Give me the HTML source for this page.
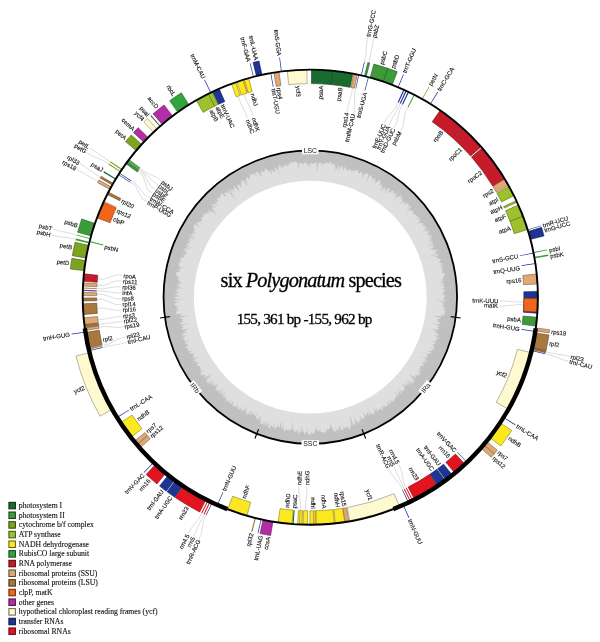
<!DOCTYPE html>
<html lang="en"><head><meta charset="utf-8"><title>six Polygonatum species chloroplast genome map</title>
<style>html,body{margin:0;padding:0;background:#fff}svg{display:block}</style></head>
<body>
<svg width="600" height="642" viewBox="0 0 600 642" font-family="'Liberation Sans', Arial, sans-serif">
<rect width="600" height="642" fill="#fff"/>
<circle cx="310.3" cy="297.2" r="146.75" fill="#dfdfdf"/>
<path d="M310.3 297.2m-146.75 0a146.75 146.75 0 1 0 293.5 0a146.75 146.75 0 1 0 -293.5 0Z M444.41 297.2 444.53 296.7 444.23 296.21 444.25 295.71 444.16 295.22 445.54 294.7 442.02 294.28 443.4 293.76 442.58 293.29 444.52 292.73 442.64 292.31 445.2 291.71 442.95 291.31 445.42 290.7 443.9 290.28 445.29 289.71 444.69 289.24 440.76 288.99 442.18 288.41 444.74 287.74 443.71 287.32 444.23 286.78 444.11 286.3 443.81 285.82 438.85 285.77 444.15 284.8 443.76 284.34 444.08 283.81 441.04 283.62 442.65 282.96 442.52 282.48 439.42 282.34 443.77 281.34 443.69 280.85 439.81 280.84 442.9 279.95 442.1 279.56 443.25 278.91 443.91 278.31 441.52 278.15 443.03 277.43 442.54 277.01 444.54 276.19 444.23 275.73 444.43 275.19 444.72 274.63 444.8 274.11 444.47 273.66 443.83 273.26 443.48 272.81 441.79 272.62 440.65 272.33 443.36 271.31 442.92 270.88 442.4 270.48 442.75 269.9 442.76 269.39 440.61 269.33 442.66 268.38 442.36 267.94 442.62 267.37 442.58 266.86 439.82 266.99 440.21 266.39 442.68 265.29 443.55 264.56 438.82 265.21 442.24 263.84 441.68 263.47 441.83 262.91 439.85 262.92 438.24 262.83 440.77 261.64 439.02 261.6 441.48 260.4 440.37 260.19 440.43 259.65 439.89 259.29 439.67 258.84 435.71 259.51 438.97 258.01 437.17 258.04 437.53 257.41 438.04 256.74 434.84 257.24 435.84 256.41 438.97 254.87 437.75 254.74 438.26 254.05 426.47 257.55 434.55 254.27 437 252.9 435.15 253.03 437.35 251.73 433.56 252.57 437.11 250.75 437.7 250 437.52 249.53 429.99 251.85 436.26 248.94 433.72 249.39 433.28 249.03 429.28 250.09 430.7 249.01 434.77 246.85 434.26 246.52 432.96 246.53 432.45 246.21 432.66 245.59 433.24 244.81 433.11 244.32 425.66 247.02 432.92 243.33 433.34 242.6 431.92 242.69 429.15 243.4 432.73 241.24 432.18 240.95 430.85 241.02 430.03 240.86 432.57 239.11 426.55 241.44 431.32 238.6 432.45 237.5 432.52 236.9 427.15 239.02 432.41 235.83 431.79 235.58 430.83 235.5 429.26 235.75 429.94 234.84 429.54 234.49 427.46 235.03 426.36 235.06 429.24 232.95 427.33 233.42 429.43 231.71 428.63 231.58 429.54 230.49 426.78 231.47 425.71 231.51 425.94 230.81 428.01 229.05 421.93 232.01 428.08 227.84 423.26 230.11 427.75 226.86 423.89 228.6 427.42 225.87 422.32 228.41 425.38 225.95 425.07 225.55 425.03 224.99 422.49 226 421.96 225.76 423.88 223.94 422.55 224.2 423.32 223.11 423.14 222.63 421.3 223.25 420.53 223.18 421.12 222.19 418.61 223.3 417.68 223.35 420.92 220.52 418.98 221.27 419.38 220.39 420.91 218.7 418.55 219.77 419.62 218.39 419.57 217.81 413.62 221.55 419.07 216.94 418.03 217.09 417.89 216.57 418.01 215.86 415.21 217.37 416.27 215.94 416.76 214.94 416.07 214.84 415.24 214.86 415.75 213.83 413 215.39 413.73 214.18 414.23 213.15 412.82 213.66 413.1 212.79 413.97 211.44 413.76 210.97 411.79 211.97 411.33 211.71 412.74 209.87 411.03 210.68 411.31 209.79 408.98 211.17 410.96 208.79 406.01 212.51 408.02 210.08 411.71 206.12 411.24 205.86 409.69 206.59 407.08 208.32 409.96 204.99 408.82 205.36 408.49 204.99 408.59 204.21 408.69 203.42 408.32 203.08 408.16 202.54 404.17 205.73 405.89 203.36 404.05 204.48 406.05 201.8 405.35 201.79 403.51 202.96 404.41 201.33 401.92 203.17 403.03 201.34 397.26 206.63 403.02 199.92 403.26 198.94 401.54 200.04 401.48 199.39 402.05 198.04 402.48 196.83 399.58 199.27 400.61 197.4 401.2 195.99 401.57 194.82 399.84 196.02 398.2 197.12 396.65 198.16 398.72 195.02 393.59 200.22 397.91 194.43 396.13 195.76 393.94 197.6 396.85 193.36 395.03 194.77 395.5 193.43 395.92 192.13 394.28 193.37 393.57 193.46 392.82 193.61 393.93 191.41 393.46 191.21 393 190.99 392.82 190.41 392.37 190.17 390.44 191.89 388.49 193.66 390.7 189.91 387.21 193.77 389.53 189.83 390.05 188.28 389.57 188.09 388.91 188.16 384.39 193.62 388.21 187.43 386.48 189.02 384.2 191.43 386.33 187.52 384.53 189.27 384.25 188.82 385.17 186.59 382.4 189.83 380.11 192.4 382.98 187.23 382.71 186.74 380.43 189.35 382 186.05 382.02 185.1 381.55 184.93 380.73 185.3 381.72 182.79 379.48 185.47 379.2 185 380.67 181.65 379.9 181.95 379.99 180.83 379.72 180.32 379.56 179.6 377.67 181.83 376.79 182.36 376.64 181.64 374.96 183.6 376.18 180.45 374.77 181.96 375.02 180.49 375.52 178.56 375.2 178.11 374.37 178.6 371.96 182.03 373.71 177.71 373.43 177.17 371.47 179.85 371.99 177.77 371.51 177.62 371.95 175.65 371.78 174.86 370.67 175.96 370.53 175.12 369.44 176.19 365.98 182.21 367.65 177.62 368.2 175.33 368.12 174.32 367.91 173.59 367.33 173.64 367.01 173.14 366.25 173.58 365.31 174.46 365.46 172.9 363.74 175.56 361.35 179.83 363.68 173.22 361.55 176.95 362.49 173.47 362.12 173.06 361.58 173.07 361.45 172.07 360.79 172.39 360.76 171.13 358.91 174.42 359.12 172.55 358.22 173.51 358.06 172.55 358.24 170.69 357.79 170.47 357.23 170.53 357 169.7 356.37 169.97 355.79 170.1 354.86 171.24 354.21 171.62 353.97 170.8 353.43 170.84 353.08 170.35 352.3 171.11 352.27 169.65 350.91 172.22 351.06 170.15 350.8 169.34 350.47 168.75 349.72 169.5 348.54 171.68 348.4 170.45 347.72 171.03 347.64 169.55 347.59 167.95 346.31 170.66 346.06 169.73 346 168.12 345.78 167.03 344.84 168.61 345 166.09 343.07 171.49 343.15 169.27 342.73 168.93 342.73 166.91 342.57 165.45 342 165.68 341.2 166.92 340.72 166.77 340.21 166.77 338.46 172.33 338.77 168.7 338.91 165.79 338.53 165.19 336.99 170.11 337.4 165.71 335.85 170.91 335.85 168.43 336.32 163.49 333.95 173.21 334.96 165.27 334.79 163.44 333.91 165.52 333.85 163 333.19 163.88 332.71 163.71 331.89 165.6 331.58 164.45 331.6 161.06 330.46 165.21 330.54 161.32 329.88 162.32 329.34 162.51 328.55 164.57 328.23 163.23 327.83 162.48 327.31 162.54 326.56 164.53 326.37 161.93 325.76 162.84 325.31 162.36 324.63 164.03 324.14 163.95 323.72 163.19 323.22 163.12 322.7 163.37 321.93 166.47 321.49 165.92 321.33 161.84 320.71 163.31 320.25 162.81 319.73 163.09 319.25 162.88 318.76 162.78 318.15 164.58 317.36 170.01 316.81 171.45 316.72 163.71 316.32 161.48 315.78 162.37 315.2 164.76 314.76 163.25 314.28 162.78 313.77 163.15 313.25 164.03 312.77 163.49 312.26 164.32 311.79 162.99 311.29 163.64 310.8 162.64 310.3 164.16 309.83 170.23 309.32 164.7 308.83 164.49 308.33 164.01 307.89 167.04 307.32 162.93 306.81 162.36 306.43 166.5 305.81 162.34 305.35 163.31 304.84 162.99 304.36 163.25 303.8 161.99 303.54 166.73 302.86 163.15 302.34 162.72 301.93 164.2 301.37 163.22 300.84 162.64 300.4 163.54 299.81 162.26 299.41 163.56 299.2 166.89 298.83 168.21 297.96 164.08 297.35 162.9 296.79 162.27 296.22 161.64 295.68 161.32 295.23 161.8 294.65 161.2 294.32 162.73 293.83 162.87 293.2 161.87 292.71 161.95 292.19 161.88 291.69 161.98 291.21 162.14 290.62 161.64 290.55 164.56 289.66 162.04 289.32 163.15 289.25 165.87 288.52 164.43 287.98 164.21 287.98 167.16 286.89 163.79 286.74 165.8 286.43 166.81 285.59 165.01 285.23 165.77 284.42 164.21 284.28 166.07 283.74 165.87 283.24 165.92 283.11 167.71 282.8 168.59 281.56 165.18 281.59 167.62 281.24 168.3 280.04 165.25 279.53 165.3 279.17 165.92 278.56 165.53 278.48 167.29 278.19 168.18 280.1 177.76 277.57 169.74 276.19 166.36 276.76 170.47 275.44 167.42 275.02 167.78 274.6 168.13 275.7 173.86 274.46 171.24 274.36 172.62 273.62 171.81 272.27 168.96 272.47 171.33 271.41 169.54 271.6 171.81 272.41 176.03 270.01 170 269.14 168.92 270.54 174.82 268.74 170.89 268.52 171.79 266.95 168.65 267.21 170.96 266.01 168.99 265.26 168.37 264.9 168.87 264.88 170.31 264.64 171.11 263.9 170.52 264.22 172.83 263.35 171.9 262.4 170.79 262.1 171.39 261.66 171.65 260.96 171.23 263.07 177.92 260.77 173.43 259.58 171.82 260.61 175.65 260.71 177.17 258.14 172.26 257.73 172.56 257.06 172.27 256.34 171.87 255.95 172.25 255.49 172.44 256.74 176.5 255.07 173.97 253.98 172.77 253.5 172.93 254.26 175.78 252.95 174.14 252.43 174.21 252.1 174.71 251.21 173.99 250.59 173.87 250.28 174.4 250.15 175.28 250.03 176.17 249.88 176.97 249.85 178.01 249.94 179.27 249.57 179.63 247.68 177.06 247.53 177.84 246.68 177.31 247.18 179.3 245.77 177.73 245.68 178.62 246.45 181.06 248.7 186.13 244.37 179.34 244.49 180.58 247.64 187.11 243.61 181.03 242.05 179.32 242.76 181.54 241.54 180.45 241.26 180.96 241.48 182.29 241.37 183.07 241.52 184.26 239.85 182.47 241.83 186.62 242.16 188.06 240.17 185.78 238.4 183.9 238.42 184.85 238.05 185.19 237.47 185.2 237.28 185.81 239.56 190.16 237.46 187.86 240.14 192.72 237.31 189.37 234.78 186.51 233.92 186.13 234.25 187.49 232.68 186.1 235.24 190.62 233.33 188.75 235.1 192.06 232.54 189.34 231.26 188.41 231.52 189.6 233.38 192.96 229.39 188.39 229.14 188.9 228.78 189.25 235.97 199.52 233.58 197.15 228.08 190.8 227.7 191.11 227.1 191.16 228.75 194.05 227.47 193.22 225.38 191.41 225.96 192.92 225.24 192.81 224.81 193.07 224.25 193.18 225.68 195.68 225.16 195.82 225.53 197.01 221.53 193.07 221.58 193.9 220.35 193.25 220.46 194.15 221.41 196 220.97 196.25 220.77 196.77 219.07 195.63 220.91 198.41 218.86 196.89 219.04 197.83 218.52 198 217.68 197.84 217.44 198.31 217.15 198.74 217.85 200.2 218.46 201.55 216.99 200.73 217.7 202.17 217.43 202.6 215.22 201.06 214.55 201.09 218.9 206.14 215.62 203.57 215.87 204.5 214.98 204.31 213.15 203.23 212.73 203.52 212.99 204.46 216.9 208.84 211.32 204.25 210.74 204.39 214.47 208.54 212.07 206.98 212.48 208.02 212.39 208.6 211.91 208.82 217.84 214.77 211.97 210.19 214.31 212.89 217.78 216.54 210.22 210.6 208.58 209.83 209.4 211.18 211.17 213.33 208.16 211.42 208.3 212.18 206.96 211.71 209.46 214.4 206.52 212.63 206.75 213.45 205.66 213.21 205.31 213.56 203.99 213.15 205.8 215.21 203.05 213.69 203.57 214.73 202.85 214.8 204.45 216.65 202.99 216.16 202.94 216.74 201.99 216.66 202.53 217.67 200.86 217.07 201.53 218.18 200.86 218.3 201.83 219.61 202.62 220.78 201.84 220.83 200.79 220.69 200.53 221.11 200.73 221.85 198.17 220.7 202.76 224.41 197.67 221.56 198.7 222.86 196.5 222 196.3 222.47 197.13 223.61 196.47 223.78 201.07 227.31 194.89 223.96 197.68 226.31 193.51 224.29 193.56 224.92 193.7 225.6 193.65 226.16 194.18 227.07 193.44 227.21 193.44 227.8 196.11 229.96 193.9 229.23 195.19 230.55 193.19 229.97 192.87 230.36 194.75 232 193.51 231.86 196.22 233.93 194.81 233.71 192.65 233.09 192.27 233.44 192.5 234.13 193.54 235.24 189.99 233.93 194.23 236.7 189.08 234.59 189.49 235.36 195.66 239.06 190.41 236.95 189.67 237.14 195.46 240.54 188.69 237.76 188.33 238.14 188.77 238.91 192.17 241.08 188.51 239.89 188.54 240.45 191.03 242.15 188.21 241.39 189.58 242.56 189.56 243.09 188.17 243 188.67 243.76 187.63 243.85 187.81 244.46 186.28 244.35 186.86 245.13 194.58 248.89 186.97 246.25 186.55 246.61 185.54 246.73 190.72 249.34 187.08 248.41 185.32 248.25 186.2 249.12 183.18 248.49 185.59 249.94 187.11 251.04 183.49 250.22 183.64 250.8 186.42 252.34 186.49 252.88 186.91 253.55 186.54 253.93 184.45 253.72 186.31 254.88 182.32 254.04 182.48 254.62 184.4 255.78 183.92 256.14 183.15 256.4 185.54 257.68 184.12 257.74 180.97 257.28 181.33 257.92 180.49 258.18 182.28 259.24 179.96 259.07 180.53 259.76 180.34 260.22 179.02 260.37 182.93 261.98 179.22 261.47 178.71 261.85 180.93 262.96 179.41 263.08 178.66 263.4 177.83 263.71 178.77 264.46 178.9 265.01 178.67 265.47 179.42 266.16 179.07 266.59 184.5 268.35 179.43 267.69 177.69 267.81 181.29 269.11 180.14 269.37 180.07 269.85 177.38 269.8 180.3 270.9 177.41 270.83 181.22 272.08 178.01 271.96 176.23 272.14 176.15 272.64 175.84 273.09 175.54 273.55 175.99 274.14 176.38 274.72 176.41 275.23 178.35 276.05 177.27 276.38 176.83 276.82 180.12 277.81 178.5 278.07 177.07 278.36 178.41 279.05 177.07 279.37 180.63 280.33 178.5 280.55 179.12 281.12 178.4 281.53 182.42 282.48 180.12 282.71 180.58 283.24 178.45 283.51 176.47 283.8 181.77 284.81 175.78 284.73 180.7 285.67 177.19 285.86 175.94 286.25 180.43 287.1 177.96 287.4 184.24 288.33 176.37 288.28 178.61 288.91 175.96 289.25 177.69 289.84 176.45 290.27 175.77 290.73 177.35 291.3 176.54 291.76 180.37 292.4 176.04 292.73 179 293.32 175.71 293.72 174.86 294.2 175.03 294.7 179.53 295.27 175.73 295.71 181.19 296.25 174.66 296.7 175.74 297.2 174.12 297.7 176.14 298.19 175.6 298.69 185.2 299.05 175.68 299.69 174.28 300.22 173.61 300.74 175.72 301.18 176.69 301.65 180.33 302.01 174.53 302.72 174.88 303.21 176.38 303.64 174.39 304.24 174.79 304.72 175.1 305.2 174.94 305.72 181.21 305.8 176.56 306.61 176.67 307.1 176.22 307.63 178.94 307.9 177.71 308.5 176.88 309.07 174.91 309.75 180.12 309.75 177.07 310.54 177.41 311 176.38 311.61 176.1 312.14 175.45 312.72 177.94 312.93 175.18 313.76 175.8 314.19 181.6 313.94 180.35 314.59 182.66 314.76 179.51 315.69 179.37 316.2 184.07 316 188.96 315.73 179.54 317.66 179.51 318.16 180.3 318.53 182.12 318.72 183.56 318.96 182.78 319.58 182.74 320.07 181.38 320.81 184.72 320.67 183.27 321.43 180.6 322.44 180.17 323.02 182.03 323.15 179.71 324.12 180.09 324.54 189.47 323.04 181.85 325.17 182.06 325.62 181.27 326.29 182.18 326.58 183.81 326.7 182.9 327.41 183.62 327.74 181.22 328.82 182.68 328.96 181.8 329.69 184.77 329.43 189.74 328.63 184 330.63 186.93 330.34 183.69 331.71 185.94 331.59 182.27 333.12 188.64 331.81 182.52 334.07 181.76 334.8 182.77 335.02 182.16 335.71 184.85 335.41 186.91 335.29 184.05 336.68 181.76 337.92 182.46 338.22 185.35 337.8 182.32 339.31 184.78 339.01 183.69 339.9 184.49 340.14 185.31 340.38 184.8 341.08 184.12 341.84 190.32 340.15 184.12 342.89 185.85 342.79 184.61 343.77 186.34 343.65 186.12 344.25 187.94 344.08 187.9 344.62 187.23 345.4 188.09 345.59 186.18 346.88 186.21 347.39 186.49 347.81 186.73 348.25 186.15 349.03 190.77 347.62 187.18 349.67 188.15 349.79 188.02 350.38 188.47 350.72 188.55 351.23 191.37 350.5 193.04 350.28 189.75 352.3 189.1 353.14 190.3 353.13 191.46 353.12 191.17 353.8 192.32 353.79 195.58 352.75 192.42 354.81 193.32 354.91 193.86 355.18 194.71 355.29 192.31 357.05 192.83 357.33 193.61 357.47 196 356.77 194.21 358.26 193.66 359.09 200.41 356.04 194.31 359.86 193.04 361.1 194.23 361.01 196.06 360.56 196.95 360.61 194.23 362.7 196.01 362.25 196.45 362.56 196.45 363.12 198.69 362.37 197.22 363.79 198.9 363.36 196.4 365.41 196.92 365.67 197.78 365.73 197.75 366.31 199.4 365.86 199.5 366.37 201.26 365.84 199.65 367.42 199.85 367.87 200.09 368.29 200.65 368.51 201.91 368.26 198.22 371.27 202.6 368.95 200.2 371.14 199.69 372.07 203.76 369.89 199.88 373.14 201.55 372.58 199.9 374.33 201.23 374.01 201.77 374.23 200.72 375.58 201.6 375.56 202.36 375.62 204.63 374.57 205.22 374.74 203.63 376.52 206 375.36 205.15 376.61 203.89 378.17 206.47 376.82 209.05 375.44 212.12 373.64 207.2 378.09 205.48 380.07 211.81 375.66 206.14 380.81 207.12 380.64 206.59 381.71 206.73 382.24 208.69 381.26 207.19 383.15 207.59 383.46 213.68 378.95 208.33 384.13 208.99 384.21 213.61 380.87 211.97 382.92 210.99 384.42 210.7 385.34 215.55 381.67 212.26 385.26 213.64 384.66 214.05 384.95 215.73 384.06 213.78 386.51 214.73 386.28 218.28 383.62 218.41 384.13 215.67 387.39 216.09 387.66 217.49 386.97 216.06 389.03 215.48 390.29 215.89 390.57 218.26 388.9 217.29 390.55 218.74 389.78 217.65 391.58 217.65 392.27 220.14 390.41 224.43 386.63 218.54 393.47 219.49 393.19 219.3 394.11 223.77 390.03 221.76 392.9 221.13 394.29 222.74 393.25 222.18 394.58 221.75 395.78 226.86 390.79 222.27 396.68 222.59 397.06 223.93 396.26 225.28 395.46 223.95 397.73 224.89 397.39 224.56 398.53 225.55 398.11 225.84 398.53 227.29 397.54 225.64 400.31 225.78 400.92 227.46 399.63 227.25 400.67 227.44 401.21 227.25 402.24 228.61 401.31 229.92 400.42 228.57 402.97 232.21 399.04 230.17 402.49 229.76 403.85 230.67 403.46 230.82 404.08 232.71 402.35 233.5 402.09 233.06 403.51 232.34 405.34 233.02 405.24 232.73 406.5 234.25 405.19 233.9 406.55 234.4 406.69 234.78 407.01 237.87 403.36 235.86 407.17 235.9 408 237.95 405.8 237.05 408.05 238.88 406.15 238.7 407.31 237.2 410.52 238.14 409.98 239.13 409.35 240.94 407.39 240.08 409.68 241.73 407.94 241.1 409.89 241.28 410.53 241.71 410.76 242.12 411.03 245.68 406.01 243.3 410.98 243.96 410.81 244.17 411.41 248.01 405.71 245.65 410.78 246.75 409.81 245.91 412.31 246.22 412.74 246.89 412.54 246.51 414.25 246.94 414.5 247.77 414 248.06 414.49 250.92 410.1 249.31 414.21 249.33 415.25 253.32 408.51 250.3 415.5 251.52 414.16 251.64 415.01 253.48 412.37 253.76 412.89 253.46 414.6 253.73 415.14 254.47 414.71 254.72 415.3 255.46 414.86 254.97 417.08 257.95 411.73 256.5 416.06 255.79 418.83 256.72 417.94 256.67 419.26 257.42 418.78 258.93 416.5 258.15 419.57 259.01 418.78 260.48 416.54 261.25 415.93 259.16 422.29 260.97 419.16 260.49 421.66 260.79 422.26 260.68 423.9 260.99 424.47 261.78 423.84 262.28 423.93 264.23 420.16 262.83 425.33 263.69 424.45 265.88 419.87 264.65 424.74 265.16 424.79 265.32 425.86 267.57 420.89 266.43 425.73 267.82 423.17 267.09 426.9 269.95 419.84 268.39 426.18 268.51 427.45 268.86 428.01 269.2 428.63 271.13 424.1 270.34 428.39 272.17 424.05 271.89 426.72 272.42 426.69 272.9 426.84 273.39 426.93 275.17 422.42 274.03 428.37 274.32 429.2 274.95 428.82 275.96 426.95 276.29 427.65 276.81 427.64 277.71 426.1 278.35 425.57 278.62 426.53 278.95 427.25 279.29 427.97 281.07 422.51 281.61 422.3 280.88 427.69 281.09 429.01 282.43 425.2 282.36 427.86 283.63 424.23 282.98 429.72 283.21 431.12 284.28 428.35 284.24 431.1 284.76 431.09 285.38 430.53 286.05 429.61 286.56 429.59 287.15 429.12 287.38 430.72 287.84 431 288.32 431.15 289.14 429.25 289.3 431.4 290.32 428.07 290.42 430.66 291.23 428.6 291.48 430.33 293.57 418.8 292.7 428.66 293.22 428.51 293.27 432 294.05 429.78 294.49 430.23 294.77 432.12 295.26 432.25 295.73 432.64 296.33 431.72 297.07 429.3 297.56 429.36 297.69 433.23 298.08 434.57 298.98 430.1 299.09 434.78 299.79 432.32 300.31 432.08 301.34 424.55 301.27 432.8 301.87 431.23 302.58 427.51 302.84 431.64 303.34 431.58 303.8 432.35 304.23 434.03 304.73 434.24 305.29 432.81 305.81 432.19 306.33 431.5 306.78 433.39 307.27 433.81 307.91 426.44 308.28 433.96 308.78 434.64 309.29 433.99 309.79 435.31 310.3 435.12 310.8 433.12 311.3 432.94 311.78 430.69 312.31 433.41 312.83 434.06 313.33 433.96 313.81 432.99 314.32 433.21 314.8 432.29 315.15 428.37 315.71 430.17 315.97 424.9 316.72 430.73 317.27 431.71 317.57 428.21 318.26 431.73 318.76 431.7 319.16 430.24 319.62 429.67 320.35 432.85 320.59 429.48 321.3 432.21 321.76 431.7 322.32 432.33 322.84 432.56 323.34 432.51 323.9 433.05 324.38 432.73 324.71 431.09 325.35 432.35 325.76 431.54 326.28 431.66 326.59 430.11 326.92 428.74 327.35 428.28 328.14 430.46 328.5 429.49 328.9 428.77 329.25 427.73 329.94 429.1 330.22 427.63 330.03 423.28 331.21 427.64 331.2 424.57 332.08 426.96 333.15 430.3 333.56 429.73 334.46 431.96 334.97 431.93 335.15 430.16 336.08 432.32 335.23 425.31 336.98 431.65 336.65 427.46 337.82 430.72 338.23 430.19 338.29 428.11 339.56 431.58 338.4 424.03 339.37 426.14 339.91 426.32 341.41 430.59 341.78 429.95 342.22 429.6 342.65 429.27 343.16 429.24 343.75 429.5 343.17 425.22 344.18 427.16 344.86 427.79 345.19 427.1 346.26 429.13 346.19 426.98 346.59 426.55 347.66 428.52 347.19 425.07 348.48 427.73 349.49 429.34 349.86 428.81 350.33 428.62 350.44 427.25 350.56 425.95 350.87 425.29 351.6 425.92 348.92 416.07 352.26 424.75 349.09 413.66 353.46 425.19 354.13 425.61 353.81 423.16 354.78 424.43 355.54 425.08 354.27 420.04 354.7 419.8 356.7 423.88 353.43 413.6 357.13 422.17 358.19 423.58 358.82 423.82 358.66 422.04 358.27 419.69 359.81 422.26 360.11 421.66 359.63 419.16 361.44 422.29 359.35 415.93 360.12 416.54 361.59 418.78 362.45 419.57 361.67 416.5 363.18 418.78 363.93 419.26 363.88 417.94 364.81 418.83 364.1 416.06 362.65 411.73 365.63 417.08 365.14 414.86 365.88 415.3 366.13 414.71 366.87 415.14 367.14 414.6 366.84 412.89 367.12 412.37 368.96 415.01 369.08 414.16 370.3 415.5 367.28 408.51 371.27 415.25 371.29 414.21 369.68 410.1 372.54 414.49 372.83 414 373.66 414.5 374.09 414.25 373.71 412.54 374.38 412.74 374.69 412.31 373.85 409.81 374.95 410.78 372.59 405.71 376.43 411.41 376.64 410.81 377.3 410.98 374.92 406.01 378.48 411.03 378.89 410.76 379.32 410.53 379.5 409.89 378.87 407.94 380.52 409.68 379.66 407.39 381.47 409.35 382.46 409.98 383.4 410.52 381.9 407.31 381.72 406.15 383.55 408.05 382.65 405.8 384.7 408 384.74 407.17 382.73 403.36 385.82 407.01 386.2 406.69 386.7 406.55 386.35 405.19 387.87 406.5 387.58 405.24 388.26 405.34 387.54 403.51 387.1 402.09 387.89 402.35 389.78 404.08 389.93 403.46 390.84 403.85 390.43 402.49 388.39 399.04 392.03 402.97 390.68 400.42 391.99 401.31 393.35 402.24 393.16 401.21 393.35 400.67 393.14 399.63 394.82 400.92 394.96 400.31 393.31 397.54 394.76 398.53 395.05 398.11 396.04 398.53 395.71 397.39 396.65 397.73 395.32 395.46 396.67 396.26 398.01 397.06 398.33 396.68 393.74 390.79 398.85 395.78 398.42 394.58 397.86 393.25 399.47 394.29 398.84 392.9 396.83 390.03 401.3 394.11 401.11 393.19 402.06 393.47 396.17 386.63 400.46 390.41 402.95 392.27 402.95 391.58 401.86 389.78 403.31 390.55 402.34 388.9 404.71 390.57 405.12 390.29 404.54 389.03 403.11 386.97 404.51 387.66 404.93 387.39 402.19 384.13 402.32 383.62 405.87 386.28 406.82 386.51 404.87 384.06 406.55 384.95 406.96 384.66 408.34 385.26 405.05 381.67 409.9 385.34 409.61 384.42 408.63 382.92 406.99 380.87 411.61 384.21 412.27 384.13 406.92 378.95 413.01 383.46 413.41 383.15 411.91 381.26 413.87 382.24 414.01 381.71 413.48 380.64 414.46 380.81 408.79 375.66 415.12 380.07 413.4 378.09 408.48 373.64 411.55 375.44 414.13 376.82 416.71 378.17 415.45 376.61 414.6 375.36 416.97 376.52 415.38 374.74 415.97 374.57 418.24 375.62 419 375.56 419.88 375.58 418.83 374.23 419.37 374.01 420.7 374.33 419.05 372.58 420.72 373.14 416.84 369.89 420.91 372.07 420.4 371.14 418 368.95 422.38 371.27 418.69 368.26 419.95 368.51 420.51 368.29 420.75 367.87 420.95 367.42 419.34 365.84 421.1 366.37 421.2 365.86 422.85 366.31 422.82 365.73 423.68 365.67 424.2 365.41 421.7 363.36 423.38 363.79 421.91 362.37 424.15 363.12 424.15 362.56 424.59 362.25 426.37 362.7 423.65 360.61 424.54 360.56 426.37 361.01 427.56 361.1 426.29 359.86 420.19 356.04 426.94 359.09 426.39 358.26 424.6 356.77 426.99 357.47 427.77 357.33 428.29 357.05 425.89 355.29 426.74 355.18 427.28 354.91 428.18 354.81 425.02 352.75 428.28 353.79 429.43 353.8 429.14 353.12 430.3 353.13 431.5 353.14 430.85 352.3 427.56 350.28 429.23 350.5 432.05 351.23 432.13 350.72 432.58 350.38 432.45 349.79 433.42 349.67 429.83 347.62 434.45 349.03 433.87 348.25 434.11 347.81 434.39 347.39 434.42 346.88 432.51 345.59 433.37 345.4 432.7 344.62 432.66 344.08 434.48 344.25 434.26 343.65 435.99 343.77 434.75 342.79 436.48 342.89 430.28 340.15 436.48 341.84 435.8 341.08 435.29 340.38 436.11 340.14 436.91 339.9 435.82 339.01 438.28 339.31 435.25 337.8 438.14 338.22 438.84 337.92 436.55 336.68 433.69 335.29 435.75 335.41 438.44 335.71 437.83 335.02 438.84 334.8 438.08 334.07 431.96 331.81 438.33 333.12 434.66 331.59 436.91 331.71 433.67 330.34 436.6 330.63 430.86 328.63 435.83 329.43 438.8 329.69 437.92 328.96 439.38 328.82 436.98 327.74 437.7 327.41 436.79 326.7 438.42 326.58 439.33 326.29 438.54 325.62 438.75 325.17 431.13 323.04 440.51 324.54 440.89 324.12 438.57 323.15 440.43 323.02 440 322.44 437.33 321.43 435.88 320.67 439.22 320.81 437.86 320.07 437.82 319.58 437.04 318.96 438.48 318.72 440.3 318.53 441.09 318.16 441.06 317.66 431.64 315.73 436.53 316 441.23 316.2 441.09 315.69 445.28 315.77 439.43 314.48 445.3 314.76 443.97 314.09 445.66 313.79 444.63 313.16 445.03 312.71 444.47 312.14 446.6 311.87 445.13 311.2 442.89 310.48 446.38 310.32 442.07 309.41 445.47 309.22 444.7 308.65 444.63 308.15 444.06 307.6 440.89 306.87 444.61 306.65 444.04 306.11 443.4 305.57 441.92 304.99 443.22 304.58 444.05 304.13 443.71 303.61 441.43 303.02 440.22 302.48 445.48 302.2 445.24 301.69 434.39 300.87 444.36 300.67 445.42 300.2 445.68 299.7 442.57 299.16 442.62 298.67 444.06 298.19 445.22 297.7Z" fill="#c0c0c0" fill-rule="evenodd"/>
<circle cx="310.3" cy="297.2" r="116.4" fill="#fff"/>
<circle cx="310.3" cy="297.2" r="146.75" fill="none" stroke="#000" stroke-width="1.8"/>
<line x1="450.71" y1="316.61" x2="460.62" y2="317.98" stroke="#000" stroke-width="1.1"/>
<line x1="169.89" y1="316.61" x2="159.98" y2="317.98" stroke="#000" stroke-width="1.1"/>
<line x1="258.58" y1="429.18" x2="254.93" y2="438.49" stroke="#000" stroke-width="1.1"/>
<line x1="362.02" y1="429.18" x2="365.67" y2="438.49" stroke="#000" stroke-width="1.1"/>
<g transform="translate(310.3 150.45) rotate(0)"><rect x="-8.25" y="-3.8" width="16.5" height="7.6" fill="#fff"/><text x="0" y="2.4" font-size="6.8" text-anchor="middle" fill="#111">LSC</text></g>
<g transform="translate(194.98 387.95) rotate(51.8)"><rect x="-7" y="-3.8" width="14" height="7.6" fill="#fff"/><text x="0" y="2.4" font-size="6.8" text-anchor="middle" fill="#111">IRb</text></g>
<g transform="translate(310.3 443.95) rotate(0)"><rect x="-8.75" y="-3.8" width="17.5" height="7.6" fill="#fff"/><text x="0" y="2.4" font-size="6.8" text-anchor="middle" fill="#111">SSC</text></g>
<g transform="translate(425.62 387.95) rotate(-51.8)"><rect x="-7" y="-3.8" width="14" height="7.6" fill="#fff"/><text x="0" y="2.4" font-size="6.8" text-anchor="middle" fill="#111">IRa</text></g>
<g fill="none" stroke="#a8a8a8" stroke-width="0.4"><path d="M523.35 302.03L517.85 301.91L504.86 301.14L499.36 301.03"/><path d="M523.27 304.73L517.77 304.54L504.7 306.1L499.2 305.84"/><path d="M407.71 107.67L405.19 112.56L403.16 126.18L400.53 131.02"/><path d="M402.21 104.94L399.84 109.9L396.52 122.74L394.08 127.67"/><path d="M400.02 103.91L397.71 108.9L391.31 120.26L389.02 125.26"/><path d="M397.99 102.98L395.73 107.99L386.65 118.2L384.49 123.26"/><path d="M368.87 62.29L370.2 56.95L372.46 44.12L373.77 38.78"/><path d="M364.55 61.26L365.79 55.9L366.7 42.78L367.89 37.41"/><path d="M355.7 88.99L354.53 94.37L354.74 107.74L353.48 113.1"/><path d="M352.6 88.34L351.51 93.73L348.1 106.31L347.03 111.7"/><path d="M244.36 94.56L246.06 99.79L251.78 111.61L253.44 116.85"/><path d="M238.38 96.6L240.23 101.78L245.66 113.65L247.49 118.84"/><path d="M140.45 168.51L144.83 171.83L156.85 177.53L161.19 180.91"/><path d="M139.78 169.4L144.18 172.7L153.67 181.72L158.09 184.98"/><path d="M139.11 170.29L143.53 173.57L150.5 186.14L155.02 189.28"/><path d="M138.23 171.49L142.67 174.74L147.84 190.08L152.43 193.1"/><path d="M109.83 161.47L105.27 158.39L94.51 151.1L89.95 148.01"/><path d="M108.3 163.75L103.71 160.72L91.5 155.65L86.88 152.66"/><path d="M131.58 181.14L136.19 184.13L144.73 194.94L149.41 197.83"/><path d="M130.67 182.54L135.31 185.5L142.28 199.02L147.03 201.79"/><path d="M100.16 176.97L95.39 174.24L84.84 166.51L80.08 163.75"/><path d="M97.84 181.12L93.01 178.49L81.72 172.05L76.89 169.41"/><path d="M76.34 234.95L71.03 233.53L58.35 230.63L53.03 229.23"/><path d="M75.24 239.25L69.9 237.93L56.9 236.36L51.55 235.08"/><path d="M97.99 278.81L103.47 279.29L116.99 274.83L122.45 275.47"/><path d="M97.53 285.3L103.02 285.61L116.4 280.75L121.88 281.21"/><path d="M97.37 288.65L102.87 288.87L115.98 286.68L121.48 286.97"/><path d="M97.29 290.88L102.79 291.04L115.75 292.79L121.25 292.91"/><path d="M97.22 294.22L102.72 294.3L115.71 298.73L121.21 298.69"/><path d="M97.21 299.34L102.71 299.28L115.84 304.67L121.34 304.46"/><path d="M97.49 308.35L102.98 308.06L116.15 310.44L121.64 310.06"/><path d="M98.39 319.66L103.86 319.08L116.7 316.87L122.17 316.31"/><path d="M98.95 324.46L104.41 323.76L117.28 321.93L122.73 321.23"/><path d="M99.31 327.13L104.76 326.36L118.1 327.64L123.53 326.78"/><path d="M102.75 345.5L108.1 344.25L120.09 338.32L125.47 337.16"/><path d="M103.18 347.31L108.52 346.02L121.36 343.78L126.7 342.47"/><path d="M201.52 513.49L199.05 518.4L190.78 528.77L188.25 533.66"/><path d="M203.79 514.61L201.37 519.55L196.06 531.43L193.65 536.37"/><path d="M205.88 515.62L203.51 520.59L201.4 533.96L199.11 538.95"/><path d="M300.45 510.07L300.7 504.58L298.76 491.46L299.09 485.97"/><path d="M305.56 510.25L305.68 504.75L306.9 491.77L307 486.27"/><path d="M402.21 489.46L399.84 484.5L391.31 474.14L389.02 469.14"/><path d="M404.05 488.57L401.63 483.63L396.22 471.81L393.79 466.87"/><path d="M406.05 487.58L403.58 482.66L401.06 469.34L398.49 464.47"/><path d="M545.66 353.92L551.01 355.21L563.24 359.94L568.57 361.26"/><path d="M546.15 351.87L551.51 353.11L564.35 355.25L569.72 356.47"/></g>
<g stroke-linejoin="miter"><path d="M521.42 329.64A213.6 213.6 0 0 0 521.52 329.01L534.77 331.01A227 227 0 0 1 534.67 331.67Z" fill="#1c3596"/><path d="M522.17 324.34A213.6 213.6 0 0 0 523.07 316L536.42 317.18A227 227 0 0 1 535.46 326.04Z" fill="#3d9b3a" stroke="#1e4d1d" stroke-width="0.55"/><path d="M523.37 312.29A213.6 213.6 0 0 0 523.83 291.79L537.23 291.46A227 227 0 0 1 536.73 313.23Z" fill="#1c3596" stroke="#0e1a4b" stroke-width="0.55"/><path d="M523.44 311.17A213.6 213.6 0 0 0 523.9 298.32L537.3 298.39A227 227 0 0 1 536.81 312.05Z" fill="#f0651c" stroke="#78320e" stroke-width="0.55"/><path d="M523.54 284.72A213.6 213.6 0 0 0 522.79 275.43L536.12 274.06A227 227 0 0 1 536.91 283.94Z" fill="#dfa974" stroke="#6f543a" stroke-width="0.55"/><path d="M521.6 265.94A213.6 213.6 0 0 0 521.51 265.31L534.76 263.31A227 227 0 0 1 534.86 263.98Z" fill="#1c3596"/><path d="M519.89 256.02A213.6 213.6 0 0 0 519.77 255.4L532.91 252.78A227 227 0 0 1 533.04 253.44Z" fill="#1c3596"/><path d="M535.17 258.36A228.2 228.2 0 0 0 534.89 256.79L548.08 254.42A241.6 241.6 0 0 1 548.37 256.08Z" fill="#3d9b3a"/><path d="M534.15 252.88A228.2 228.2 0 0 0 534 252.09L547.13 249.45A241.6 241.6 0 0 1 547.3 250.27Z" fill="#3d9b3a"/><path d="M531.03 239.29A228.2 228.2 0 0 0 528.76 231.24L541.59 227.37A241.6 241.6 0 0 1 543.99 235.89Z" fill="#1c3596" stroke="#0e1a4b" stroke-width="0.55"/><path d="M528.39 230.04A228.2 228.2 0 0 0 528.19 229.4L540.99 225.41A241.6 241.6 0 0 1 541.2 226.1Z" fill="#1c3596"/><path d="M514.24 233.68A213.6 213.6 0 0 0 509.91 221.17L522.44 216.41A227 227 0 0 1 527.03 229.7Z" fill="#9dc22b" stroke="#4e6115" stroke-width="0.55"/><path d="M509.91 221.17A213.6 213.6 0 0 0 505.58 210.66L517.84 205.23A227 227 0 0 1 522.44 216.41Z" fill="#9dc22b" stroke="#4e6115" stroke-width="0.55"/><path d="M504.4 208.03A213.6 213.6 0 0 0 503.69 206.51L515.82 200.82A227 227 0 0 1 516.57 202.43Z" fill="#9dc22b" stroke="#4e6115" stroke-width="0.55"/><path d="M501.46 201.89A213.6 213.6 0 0 0 496.94 193.32L508.65 186.8A227 227 0 0 1 513.45 195.91Z" fill="#9dc22b" stroke="#4e6115" stroke-width="0.55"/><path d="M496.39 192.34A213.6 213.6 0 0 0 492.91 186.39L504.36 179.44A227 227 0 0 1 508.07 185.76Z" fill="#dfa974" stroke="#6f543a" stroke-width="0.55"/><path d="M492.72 186.07A213.6 213.6 0 0 0 471.51 157.07L481.62 148.27A227 227 0 0 1 504.16 179.1Z" fill="#c61c2a" stroke="#630e15" stroke-width="0.55"/><path d="M470.65 156.08A213.6 213.6 0 0 0 453.78 138.96L462.78 129.04A227 227 0 0 1 480.71 147.23Z" fill="#c61c2a" stroke="#630e15" stroke-width="0.55"/><path d="M453.5 138.71A213.6 213.6 0 0 0 432.2 121.8L439.85 110.8A227 227 0 0 1 462.49 128.77Z" fill="#c61c2a" stroke="#630e15" stroke-width="0.55"/><path d="M431.01 103.54A228.2 228.2 0 0 0 430.43 103.18L437.49 91.79A241.6 241.6 0 0 1 438.1 92.17Z" fill="#1c3596"/><path d="M422.79 98.65A228.2 228.2 0 0 0 422.2 98.32L428.77 86.64A241.6 241.6 0 0 1 429.4 86.99Z" fill="#7ca41e"/><path d="M408.35 107.43A213.6 213.6 0 0 0 407.52 107.01L413.62 95.08A227 227 0 0 1 414.5 95.53Z" fill="#3d9b3a"/><path d="M402.93 104.73A213.6 213.6 0 0 0 401.92 104.25L407.67 92.14A227 227 0 0 1 408.74 92.66Z" fill="#1c3596"/><path d="M400.74 103.69A213.6 213.6 0 0 0 399.73 103.22L405.34 91.05A227 227 0 0 1 406.41 91.55Z" fill="#1c3596"/><path d="M398.71 102.76A213.6 213.6 0 0 0 397.69 102.29L403.17 90.07A227 227 0 0 1 404.26 90.56Z" fill="#1c3596"/><path d="M398.68 86.81A228.2 228.2 0 0 0 398.05 86.55L403.2 74.18A241.6 241.6 0 0 1 403.87 74.45Z" fill="#1c3596"/><path d="M392.45 84.3A228.2 228.2 0 0 0 382.71 80.79L386.96 68.09A241.6 241.6 0 0 1 397.28 71.8Z" fill="#3d9b3a" stroke="#1e4d1d" stroke-width="0.55"/><path d="M383.46 81.05A228.2 228.2 0 0 0 370.32 77.04L373.85 64.11A241.6 241.6 0 0 1 387.76 68.35Z" fill="#3d9b3a" stroke="#1e4d1d" stroke-width="0.55"/><path d="M366.38 76A228.2 228.2 0 0 0 364.64 75.56L367.83 62.55A241.6 241.6 0 0 1 369.67 63.01Z" fill="#3d9b3a" stroke="#1e4d1d" stroke-width="0.55"/><path d="M361.77 74.88A228.2 228.2 0 0 0 361.11 74.73L364.09 61.66A241.6 241.6 0 0 1 364.79 61.83Z" fill="#1c3596"/><path d="M365.17 90.77A213.6 213.6 0 0 0 364.56 90.61L367.96 77.65A227 227 0 0 1 368.61 77.82Z" fill="#1c3596"/><path d="M356.11 88.57A213.6 213.6 0 0 0 355.49 88.44L358.33 75.34A227 227 0 0 1 358.99 75.48Z" fill="#1c3596"/><path d="M354.35 88.19A213.6 213.6 0 0 0 351.06 87.52L353.61 74.37A227 227 0 0 1 357.11 75.08Z" fill="#dfa974" stroke="#6f543a" stroke-width="0.55"/><path d="M350.14 87.35A213.6 213.6 0 0 0 331.14 84.62L332.45 71.28A227 227 0 0 1 352.64 74.18Z" fill="#1a6b30" stroke="#0d3518" stroke-width="0.55"/><path d="M330.96 84.6A213.6 213.6 0 0 0 311.42 83.6L311.49 70.2A227 227 0 0 1 332.25 71.26Z" fill="#1a6b30" stroke="#0d3518" stroke-width="0.55"/><path d="M307.13 83.62A213.6 213.6 0 0 0 288.71 84.69L287.36 71.36A227 227 0 0 1 306.93 70.22Z" fill="#fff9cf" stroke="#7f7c67" stroke-width="0.55"/><path d="M280.94 85.63A213.6 213.6 0 0 0 276.15 86.35L274.01 73.12A227 227 0 0 1 279.1 72.35Z" fill="#dfa974" stroke="#6f543a" stroke-width="0.55"/><path d="M273.52 86.79A213.6 213.6 0 0 0 272.9 86.9L270.55 73.71A227 227 0 0 1 271.21 73.59Z" fill="#1c3596"/><path d="M281.64 70.81A228.2 228.2 0 0 0 280.97 70.89L279.25 57.6A241.6 241.6 0 0 1 279.96 57.51Z" fill="#1c3596"/><path d="M261.88 74.2A228.2 228.2 0 0 0 256.25 75.49L253.08 62.47A241.6 241.6 0 0 1 259.04 61.1Z" fill="#1c3596" stroke="#0e1a4b" stroke-width="0.55"/><path d="M253.68 76.13A228.2 228.2 0 0 0 253.03 76.3L249.67 63.33A241.6 241.6 0 0 1 250.36 63.15Z" fill="#1c3596"/><path d="M252.32 91.62A213.6 213.6 0 0 0 248.21 92.82L244.31 80A227 227 0 0 1 248.68 78.72Z" fill="#fbe821" stroke="#7d7410" stroke-width="0.55"/><path d="M247.14 93.15A213.6 213.6 0 0 0 241.29 95.06L236.96 82.37A227 227 0 0 1 243.17 80.35Z" fill="#fbe821" stroke="#7d7410" stroke-width="0.55"/><path d="M240.23 95.42A213.6 213.6 0 0 0 236.19 96.87L231.55 84.3A227 227 0 0 1 235.83 82.76Z" fill="#fbe821" stroke="#7d7410" stroke-width="0.55"/><path d="M224.79 101.46A213.6 213.6 0 0 0 218.51 104.33L212.75 92.23A227 227 0 0 1 219.42 89.19Z" fill="#1c3596" stroke="#0e1a4b" stroke-width="0.55"/><path d="M210.75 91.86A228.2 228.2 0 0 0 210.14 92.16L204.26 80.12A241.6 241.6 0 0 1 204.9 79.8Z" fill="#1c3596"/><path d="M218.01 104.57A213.6 213.6 0 0 0 214.49 106.29L208.48 94.32A227 227 0 0 1 212.22 92.48Z" fill="#9dc22b" stroke="#4e6115" stroke-width="0.55"/><path d="M214.49 106.29A213.6 213.6 0 0 0 203.18 112.4L196.46 100.81A227 227 0 0 1 208.48 94.32Z" fill="#9dc22b" stroke="#4e6115" stroke-width="0.55"/><path d="M188.53 104.2A228.2 228.2 0 0 0 177.46 111.65L169.66 100.75A241.6 241.6 0 0 1 181.38 92.87Z" fill="#2fa53c" stroke="#17521e" stroke-width="0.55"/><path d="M172.17 115.55A228.2 228.2 0 0 0 161.79 123.93L153.07 113.76A241.6 241.6 0 0 1 164.06 104.89Z" fill="#b22da6" stroke="#591653" stroke-width="0.55"/><path d="M160.06 125.43A228.2 228.2 0 0 0 159.31 126.09L150.45 116.04A241.6 241.6 0 0 1 151.24 115.35Z" fill="#1a6b30"/><path d="M156.57 128.55A228.2 228.2 0 0 0 153.07 131.81L143.84 122.09A241.6 241.6 0 0 1 147.54 118.65Z" fill="#fff9cf" stroke="#7f7c67" stroke-width="0.55"/><path d="M147.68 137.11A228.2 228.2 0 0 0 143.27 141.71L133.46 132.58A241.6 241.6 0 0 1 138.13 127.71Z" fill="#b22da6" stroke="#591653" stroke-width="0.55"/><path d="M141.25 143.91A228.2 228.2 0 0 0 135.74 150.21L125.49 141.58A241.6 241.6 0 0 1 131.32 134.91Z" fill="#7ca41e" stroke="#3e520f" stroke-width="0.55"/><path d="M140.39 167.76A213.6 213.6 0 0 0 139.71 168.65L129.01 160.59A227 227 0 0 1 129.73 159.64Z" fill="#3d9b3a"/><path d="M139.71 168.65A213.6 213.6 0 0 0 139.04 169.55L128.3 161.54A227 227 0 0 1 129.01 160.59Z" fill="#3d9b3a"/><path d="M139.04 169.55A213.6 213.6 0 0 0 138.37 170.45L127.59 162.49A227 227 0 0 1 128.3 161.54Z" fill="#3d9b3a"/><path d="M138.37 170.45A213.6 213.6 0 0 0 137.28 171.95L126.42 164.09A227 227 0 0 1 127.59 162.49Z" fill="#3d9b3a" stroke="#1e4d1d" stroke-width="0.55"/><path d="M121.62 168.85A228.2 228.2 0 0 0 121.06 169.67L109.95 162.19A241.6 241.6 0 0 1 110.54 161.31Z" fill="#7ca41e"/><path d="M120.17 171A228.2 228.2 0 0 0 119.62 171.83L108.43 164.47A241.6 241.6 0 0 1 109.01 163.59Z" fill="#7ca41e"/><path d="M131.33 180.6A213.6 213.6 0 0 0 130.99 181.13L119.74 173.85A227 227 0 0 1 120.11 173.28Z" fill="#1c3596"/><path d="M130.42 182.01A213.6 213.6 0 0 0 130.08 182.54L118.78 175.35A227 227 0 0 1 119.14 174.78Z" fill="#1c3596"/><path d="M115.52 178.31A228.2 228.2 0 0 0 114.9 179.33L103.43 172.41A241.6 241.6 0 0 1 104.08 171.32Z" fill="#1a6b30"/><path d="M112.67 183.1A228.2 228.2 0 0 0 111.78 184.66L100.13 178.05A241.6 241.6 0 0 1 101.07 176.4Z" fill="#a9783f" stroke="#543c1f" stroke-width="0.55"/><path d="M110.71 186.57A228.2 228.2 0 0 0 109.38 189.01L97.58 182.66A241.6 241.6 0 0 1 98.99 180.07Z" fill="#dfa974" stroke="#6f543a" stroke-width="0.55"/><path d="M120.83 198.57A213.6 213.6 0 0 0 119.73 200.73L107.77 194.67A227 227 0 0 1 108.95 192.38Z" fill="#a9783f" stroke="#543c1f" stroke-width="0.55"/><path d="M116.75 206.84A213.6 213.6 0 0 0 116.36 207.69L104.19 202.07A227 227 0 0 1 104.61 201.18Z" fill="#dfa974"/><path d="M116.16 208.11A213.6 213.6 0 0 0 110.1 222.75L97.54 218.07A227 227 0 0 1 103.99 202.52Z" fill="#f0651c" stroke="#78320e" stroke-width="0.55"/><path d="M94.4 223.28A228.2 228.2 0 0 0 90.51 235.83L77.6 232.23A241.6 241.6 0 0 1 81.73 218.94Z" fill="#3d9b3a" stroke="#1e4d1d" stroke-width="0.55"/><path d="M89.88 238.14A228.2 228.2 0 0 0 89.67 238.91L76.72 235.48A241.6 241.6 0 0 1 76.93 234.67Z" fill="#3d9b3a"/><path d="M88.93 241.8A228.2 228.2 0 0 0 88.55 243.35L75.52 240.18A241.6 241.6 0 0 1 75.93 238.55Z" fill="#3d9b3a"/><path d="M103.32 244.44A213.6 213.6 0 0 0 103.04 245.53L90.04 242.28A227 227 0 0 1 90.33 241.13Z" fill="#3d9b3a"/><path d="M88.08 245.28A228.2 228.2 0 0 0 85.5 257.97L72.3 255.66A241.6 241.6 0 0 1 75.04 242.24Z" fill="#7ca41e" stroke="#3e520f" stroke-width="0.55"/><path d="M85.07 260.52A228.2 228.2 0 0 0 83.66 270.58L70.35 269.01A241.6 241.6 0 0 1 71.84 258.36Z" fill="#7ca41e" stroke="#3e520f" stroke-width="0.55"/><path d="M97.83 275.24A213.6 213.6 0 0 0 97.22 282.3L83.85 281.37A227 227 0 0 1 84.5 273.87Z" fill="#c61c2a" stroke="#630e15" stroke-width="0.55"/><path d="M97.12 283.79A213.6 213.6 0 0 0 96.96 286.77L83.57 286.11A227 227 0 0 1 83.75 282.95Z" fill="#dfa974" stroke="#6f543a" stroke-width="0.55"/><path d="M96.89 288.16A213.6 213.6 0 0 0 96.85 289.09L83.46 288.58A227 227 0 0 1 83.5 287.6Z" fill="#a9783f"/><path d="M96.81 290.3A213.6 213.6 0 0 0 96.78 291.42L83.38 291.06A227 227 0 0 1 83.42 289.87Z" fill="#6a3fa0"/><path d="M96.75 292.73A213.6 213.6 0 0 0 96.71 295.71L83.31 295.62A227 227 0 0 1 83.35 292.45Z" fill="#dfa974" stroke="#6f543a" stroke-width="0.55"/><path d="M96.7 297.95A213.6 213.6 0 0 0 96.73 300.74L83.33 300.96A227 227 0 0 1 83.3 297.99Z" fill="#a9783f" stroke="#543c1f" stroke-width="0.55"/><path d="M96.79 303.35A213.6 213.6 0 0 0 97.32 313.4L83.95 314.42A227 227 0 0 1 83.39 303.74Z" fill="#a9783f" stroke="#543c1f" stroke-width="0.55"/><path d="M97.58 316.56A213.6 213.6 0 0 0 98.25 322.86L84.94 324.47A227 227 0 0 1 84.23 317.77Z" fill="#dfa974" stroke="#6f543a" stroke-width="0.55"/><path d="M98.29 323.23A213.6 213.6 0 0 0 98.63 325.82L85.35 327.61A227 227 0 0 1 84.99 324.86Z" fill="#a9783f" stroke="#543c1f" stroke-width="0.55"/><path d="M98.65 326A213.6 213.6 0 0 0 98.99 328.4L85.74 330.36A227 227 0 0 1 85.37 327.81Z" fill="#dfa974" stroke="#6f543a" stroke-width="0.55"/><path d="M84.73 331.78A228.2 228.2 0 0 0 84.84 332.45L71.6 334.52A241.6 241.6 0 0 1 71.49 333.81Z" fill="#1c3596"/><path d="M99.27 330.25A213.6 213.6 0 0 0 102.01 344.52L88.94 347.49A227 227 0 0 1 86.03 332.32Z" fill="#a9783f" stroke="#543c1f" stroke-width="0.55"/><path d="M102.09 344.89A213.6 213.6 0 0 0 102.43 346.34L89.39 349.42A227 227 0 0 1 89.03 347.88Z" fill="#a9783f"/><path d="M102.61 347.12A213.6 213.6 0 0 0 102.76 347.73L89.74 350.9A227 227 0 0 1 89.59 350.25Z" fill="#1c3596"/><path d="M88.98 352.79A228.2 228.2 0 0 0 111.68 409.57L100.02 416.17A241.6 241.6 0 0 1 75.98 356.06Z" fill="#fff9cf" stroke="#7f7c67" stroke-width="0.55"/><path d="M128.79 409.81A213.6 213.6 0 0 0 129.13 410.34L117.76 417.44A227 227 0 0 1 117.41 416.87Z" fill="#1c3596"/><path d="M132.18 415.09A213.6 213.6 0 0 0 141.98 428.71L131.42 436.96A227 227 0 0 1 121.01 422.49Z" fill="#fbe821" stroke="#7d7410" stroke-width="0.55"/><path d="M145.01 432.49A213.6 213.6 0 0 0 147.51 435.5L137.3 444.17A227 227 0 0 1 134.64 440.98Z" fill="#dfa974" stroke="#6f543a" stroke-width="0.55"/><path d="M147.76 435.78A213.6 213.6 0 0 0 150.32 438.74L140.29 447.61A227 227 0 0 1 137.56 444.47Z" fill="#dfa974" stroke="#6f543a" stroke-width="0.55"/><path d="M152.97 462.5A228.2 228.2 0 0 0 153.46 462.96L144.25 472.7A241.6 241.6 0 0 1 143.73 472.2Z" fill="#1c3596"/><path d="M155.25 464.64A228.2 228.2 0 0 0 165.45 473.54L156.95 483.89A241.6 241.6 0 0 1 146.15 474.47Z" fill="#e2141f" stroke="#710a0f" stroke-width="0.55"/><path d="M167.93 475.54A228.2 228.2 0 0 0 174.24 480.4L166.25 491.16A241.6 241.6 0 0 1 159.57 486.02Z" fill="#1c3596" stroke="#0e1a4b" stroke-width="0.55"/><path d="M175.04 480.99A228.2 228.2 0 0 0 182.36 486.16L174.85 497.26A241.6 241.6 0 0 1 167.1 491.79Z" fill="#1c3596" stroke="#0e1a4b" stroke-width="0.55"/><path d="M182.69 486.39A228.2 228.2 0 0 0 205.81 500.07L199.68 511.99A241.6 241.6 0 0 1 175.2 497.5Z" fill="#e2141f" stroke="#710a0f" stroke-width="0.55"/><path d="M207.32 500.84A228.2 228.2 0 0 0 208.21 501.29L202.22 513.27A241.6 241.6 0 0 1 201.27 512.8Z" fill="#e2141f"/><path d="M209.46 501.91A228.2 228.2 0 0 0 210.35 502.35L204.48 514.39A241.6 241.6 0 0 1 203.54 513.93Z" fill="#e2141f"/><path d="M211.57 502.94A228.2 228.2 0 0 0 212.18 503.23L206.42 515.33A241.6 241.6 0 0 1 205.78 515.02Z" fill="#1c3596"/><path d="M222.79 492.05A213.6 213.6 0 0 0 223.37 492.31L217.92 504.55A227 227 0 0 1 217.3 504.28Z" fill="#1c3596"/><path d="M232.71 496.21A213.6 213.6 0 0 0 250.71 502.32L246.97 515.19A227 227 0 0 1 227.84 508.69Z" fill="#fbe821" stroke="#7d7410" stroke-width="0.55"/><path d="M254.51 518.48A228.2 228.2 0 0 0 255.67 518.77L252.47 531.78A241.6 241.6 0 0 1 251.24 531.47Z" fill="#a9783f"/><path d="M260.58 519.92A228.2 228.2 0 0 0 261.24 520.06L258.36 533.15A241.6 241.6 0 0 1 257.66 533Z" fill="#1c3596"/><path d="M262.85 520.41A228.2 228.2 0 0 0 272.83 522.3L270.63 535.52A241.6 241.6 0 0 1 260.07 533.52Z" fill="#b22da6" stroke="#591653" stroke-width="0.55"/><path d="M280.02 508.64A213.6 213.6 0 0 0 293.17 510.11L292.09 523.47A227 227 0 0 1 278.12 521.91Z" fill="#fbe821" stroke="#7d7410" stroke-width="0.55"/><path d="M293.54 510.14A213.6 213.6 0 0 0 294.66 510.23L293.67 523.59A227 227 0 0 1 292.49 523.5Z" fill="#1a6b30"/><path d="M298.38 510.47A213.6 213.6 0 0 0 302.47 510.66L301.98 524.05A227 227 0 0 1 297.63 523.85Z" fill="#fbe821" stroke="#7d7410" stroke-width="0.55"/><path d="M303.4 510.69A213.6 213.6 0 0 0 307.69 510.78L307.53 524.18A227 227 0 0 1 302.97 524.08Z" fill="#fbe821" stroke="#7d7410" stroke-width="0.55"/><path d="M309.93 510.8A213.6 213.6 0 0 0 315.52 510.74L315.85 524.13A227 227 0 0 1 309.9 524.2Z" fill="#fbe821" stroke="#7d7410" stroke-width="0.55"/><path d="M315.89 510.73A213.6 213.6 0 0 0 333 509.59L334.42 522.91A227 227 0 0 1 316.24 524.12Z" fill="#fbe821" stroke="#7d7410" stroke-width="0.55"/><path d="M333.74 509.51A213.6 213.6 0 0 0 342.61 508.34L344.64 521.59A227 227 0 0 1 335.21 522.83Z" fill="#fbe821" stroke="#7d7410" stroke-width="0.55"/><path d="M342.98 508.29A213.6 213.6 0 0 0 346.47 507.71L348.74 520.92A227 227 0 0 1 345.03 521.53Z" fill="#dfa974" stroke="#6f543a" stroke-width="0.55"/><path d="M347.39 507.55A213.6 213.6 0 0 0 394.1 493.67L399.36 506A227 227 0 0 1 349.72 520.75Z" fill="#fff9cf" stroke="#7f7c67" stroke-width="0.55"/><path d="M403.17 505.65A228.2 228.2 0 0 0 403.79 505.37L409.28 517.59A241.6 241.6 0 0 1 408.63 517.89Z" fill="#1c3596"/><path d="M402.14 490.05A213.6 213.6 0 0 0 402.71 489.78L408.51 501.86A227 227 0 0 1 407.9 502.15Z" fill="#1c3596"/><path d="M403.85 489.22A213.6 213.6 0 0 0 404.69 488.81L410.61 500.83A227 227 0 0 1 409.72 501.27Z" fill="#e2141f"/><path d="M405.86 488.23A213.6 213.6 0 0 0 406.69 487.81L412.74 499.77A227 227 0 0 1 411.85 500.22Z" fill="#e2141f"/><path d="M408.1 487.09A213.6 213.6 0 0 0 429.74 474.28L437.24 485.39A227 227 0 0 1 414.24 499.01Z" fill="#e2141f" stroke="#710a0f" stroke-width="0.55"/><path d="M430.05 474.07A213.6 213.6 0 0 0 436.9 469.24L444.85 480.03A227 227 0 0 1 437.57 485.17Z" fill="#1c3596" stroke="#0e1a4b" stroke-width="0.55"/><path d="M437.65 468.68A213.6 213.6 0 0 0 443.56 464.13L451.92 474.61A227 227 0 0 1 445.64 479.44Z" fill="#1c3596" stroke="#0e1a4b" stroke-width="0.55"/><path d="M445.88 462.26A213.6 213.6 0 0 0 455.43 453.92L464.53 463.76A227 227 0 0 1 454.38 472.61Z" fill="#e2141f" stroke="#710a0f" stroke-width="0.55"/><path d="M457.1 452.36A213.6 213.6 0 0 0 457.56 451.92L466.8 461.63A227 227 0 0 1 466.31 462.09Z" fill="#1c3596"/><path d="M481.21 448.41A228.2 228.2 0 0 0 483.95 445.25L494.15 453.95A241.6 241.6 0 0 1 491.25 457.29Z" fill="#dfa974" stroke="#6f543a" stroke-width="0.55"/><path d="M484.21 444.95A228.2 228.2 0 0 0 486.89 441.74L497.26 450.22A241.6 241.6 0 0 1 494.42 453.63Z" fill="#dfa974" stroke="#6f543a" stroke-width="0.55"/><path d="M490.12 437.69A228.2 228.2 0 0 0 500.59 423.15L511.77 430.55A241.6 241.6 0 0 1 500.68 445.94Z" fill="#fbe821" stroke="#7d7410" stroke-width="0.55"/><path d="M503.86 418.08A228.2 228.2 0 0 0 504.21 417.5L515.6 424.57A241.6 241.6 0 0 1 515.22 425.17Z" fill="#1c3596"/><path d="M496.21 402.38A213.6 213.6 0 0 0 517.46 349.24L530.46 352.5A227 227 0 0 1 507.87 408.98Z" fill="#fff9cf" stroke="#7f7c67" stroke-width="0.55"/><path d="M532.07 350.99A228.2 228.2 0 0 0 532.23 350.34L545.26 353.46A241.6 241.6 0 0 1 545.09 354.15Z" fill="#1c3596"/><path d="M532.4 349.6A228.2 228.2 0 0 0 532.81 347.85L545.87 350.83A241.6 241.6 0 0 1 545.44 352.68Z" fill="#a9783f" stroke="#543c1f" stroke-width="0.55"/><path d="M532.83 347.76A228.2 228.2 0 0 0 535.69 332.9L548.93 334.99A241.6 241.6 0 0 1 545.9 350.73Z" fill="#a9783f" stroke="#543c1f" stroke-width="0.55"/><path d="M535.99 330.93A228.2 228.2 0 0 0 536.42 327.97L549.69 329.78A241.6 241.6 0 0 1 549.25 332.91Z" fill="#dfa974" stroke="#6f543a" stroke-width="0.55"/></g>
<path d="M248.3 92.48A213.9 213.9 0 0 0 246.69 92.98L242.86 80.66A226.8 226.8 0 0 1 244.56 80.14Z" fill="#c9a04a"/><path d="M299.66 510.84A213.9 213.9 0 0 0 300.6 510.88L300.01 523.77A226.8 226.8 0 0 1 299.02 523.72Z" fill="#c9a04a"/><path d="M312.91 511.08A213.9 213.9 0 0 0 314.22 511.06L314.46 523.96A226.8 226.8 0 0 1 313.07 523.98Z" fill="#c9a04a"/>
<circle cx="310.3" cy="297.2" r="227.6" fill="none" stroke="#000" stroke-width="1.9"/>
<path d="M84.84 328.36A227.6 227.6 0 0 0 227.25 509.11" fill="none" stroke="#000" stroke-width="4.4"/>
<path d="M393.35 509.11A227.6 227.6 0 0 0 535.76 328.36" fill="none" stroke="#000" stroke-width="4.4"/>
<g font-size="6" fill="#111" stroke="#111" stroke-width="0.12"><text transform="translate(519.69 329.05) rotate(-351.35)" y="2.1" text-anchor="end">trnH-GUG</text><text transform="translate(520.87 319.98) rotate(-353.82)" y="2.1" text-anchor="end">psbA</text><text transform="translate(498.36 301.01) rotate(-358.84)" y="2.1" text-anchor="end">trnK-UUU</text><text transform="translate(498.2 305.8) rotate(-357.38)" y="2.1" text-anchor="end">matK</text><text transform="translate(521.42 280.21) rotate(-4.6)" y="2.1" text-anchor="end">rps16</text><text transform="translate(520.09 268.09) rotate(-7.9)" y="2.1" text-anchor="end">trnQ-UUG</text><text transform="translate(518.07 256.06) rotate(-11.2)" y="2.1" text-anchor="end">trnS-GCU</text><text transform="translate(550.22 256.19) rotate(-9.7)" y="2.1" text-anchor="start">psbK</text><text transform="translate(549.15 250.34) rotate(-11.1)" y="2.1" text-anchor="start">psbI</text><text transform="translate(544.39 230.52) rotate(-15.9)" y="2.1" text-anchor="start">trnG-UCC</text><text transform="translate(542.94 225.63) rotate(-17.1)" y="2.1" text-anchor="start">trnR-UCU</text><text transform="translate(510.47 227.98) rotate(-19.08)" y="2.1" text-anchor="end">atpA</text><text transform="translate(505.84 215.81) rotate(-22.6)" y="2.1" text-anchor="end">atpF</text><text transform="translate(501.94 207.02) rotate(-25.2)" y="2.1" text-anchor="end">atpH</text><text transform="translate(498 199.07) rotate(-27.6)" y="2.1" text-anchor="end">atpI</text><text transform="translate(493.17 190.34) rotate(-30.3)" y="2.1" text-anchor="end">rps2</text><text transform="translate(481.27 172.18) rotate(-36.17)" y="2.1" text-anchor="end">rpoC2</text><text transform="translate(461.17 148.55) rotate(-44.58)" y="2.1" text-anchor="end">rpoC1</text><text transform="translate(442 131.33) rotate(-51.55)" y="2.1" text-anchor="end">rpoB</text><text transform="translate(438.74 90.45) rotate(-58.15)" y="2.1" text-anchor="start">trnC-GCA</text><text transform="translate(429.97 85.25) rotate(-60.55)" y="2.1" text-anchor="start">petN</text><text transform="translate(400.05 131.89) rotate(-61.5)" y="2.1" text-anchor="end">psbM</text><text transform="translate(393.64 128.57) rotate(-63.7)" y="2.1" text-anchor="end">trnD-GUC</text><text transform="translate(388.6 126.17) rotate(-65.4)" y="2.1" text-anchor="end">trnY-GUA</text><text transform="translate(384.1 124.18) rotate(-66.9)" y="2.1" text-anchor="end">trnE-UUC</text><text transform="translate(404.23 72.65) rotate(-67.3)" y="2.1" text-anchor="start">trnT-GGU</text><text transform="translate(392.75 68.19) rotate(-70.2)" y="2.1" text-anchor="start">psbD</text><text transform="translate(381.36 64.4) rotate(-73.03)" y="2.1" text-anchor="start">psbC</text><text transform="translate(374.01 37.81) rotate(-76.2)" y="2.1" text-anchor="start">psbZ</text><text transform="translate(368.11 36.43) rotate(-77.5)" y="2.1" text-anchor="start">trnG-GCC</text><text transform="translate(365.12 92.62) rotate(-75)" y="2.1" text-anchor="end">trnS-UGA</text><text transform="translate(353.25 114.07) rotate(-76.8)" y="2.1" text-anchor="end">trnfM-CAU</text><text transform="translate(346.84 112.68) rotate(-78.8)" y="2.1" text-anchor="end">rps14</text><text transform="translate(340.42 87.55) rotate(-81.83)" y="2.1" text-anchor="end">psaB</text><text transform="translate(321.11 85.68) rotate(-87.08)" y="2.1" text-anchor="end">psaA</text><text transform="translate(298.02 85.76) rotate(86.68)" y="2.1" text-anchor="start">ycf3</text><text transform="translate(278.81 87.75) rotate(81.45)" y="2.1" text-anchor="start">rps4</text><text transform="translate(273.52 88.62) rotate(80)" y="2.1" text-anchor="start">trnT-UGU</text><text transform="translate(279.37 55.77) rotate(82.7)" y="2.1" text-anchor="end">trnS-GGA</text><text transform="translate(256.38 59.85) rotate(77.2)" y="2.1" text-anchor="end">trnL-UAA</text><text transform="translate(248.74 61.71) rotate(75.35)" y="2.1" text-anchor="end">trnF-GAA</text><text transform="translate(252.63 93.4) rotate(74.2)" y="2.1" text-anchor="start">ndhJ</text><text transform="translate(253.74 117.81) rotate(72.5)" y="2.1" text-anchor="start">ndhK</text><text transform="translate(247.82 119.78) rotate(70.6)" y="2.1" text-anchor="start">ndhC</text><text transform="translate(222.38 104.51) rotate(65.47)" y="2.1" text-anchor="start">trnV-UAC</text><text transform="translate(203.79 78.34) rotate(64.05)" y="2.1" text-anchor="end">trnM-CAU</text><text transform="translate(217.45 106.84) rotate(64)" y="2.1" text-anchor="start">atpE</text><text transform="translate(211.19 110.02) rotate(62.1)" y="2.1" text-anchor="start">atpB</text><text transform="translate(174.46 95.23) rotate(56.08)" y="2.1" text-anchor="end">rbcL</text><text transform="translate(157.37 107.84) rotate(51.07)" y="2.1" text-anchor="end">accD</text><text transform="translate(148.38 115.47) rotate(48.3)" y="2.1" text-anchor="end">psaI</text><text transform="translate(143.37 120.06) rotate(46.7)" y="2.1" text-anchor="end">ycf4</text><text transform="translate(133.74 129.65) rotate(43.5)" y="2.1" text-anchor="end">cemA</text><text transform="translate(125.77 138.48) rotate(40.7)" y="2.1" text-anchor="end">petA</text><text transform="translate(161.97 181.52) rotate(37.95)" y="2.1" text-anchor="start">psbJ</text><text transform="translate(158.9 185.58) rotate(36.4)" y="2.1" text-anchor="start">psbL</text><text transform="translate(155.84 189.85) rotate(34.8)" y="2.1" text-anchor="start">psbF</text><text transform="translate(153.27 193.65) rotate(33.4)" y="2.1" text-anchor="start">psbE</text><text transform="translate(89.13 147.45) rotate(34.1)" y="2.1" text-anchor="end">petL</text><text transform="translate(86.04 152.12) rotate(32.9)" y="2.1" text-anchor="end">petG</text><text transform="translate(150.26 198.36) rotate(31.7)" y="2.1" text-anchor="start">trnW-CCA</text><text transform="translate(147.9 202.3) rotate(30.3)" y="2.1" text-anchor="start">trnP-UGG</text><text transform="translate(102.55 170.39) rotate(31.4)" y="2.1" text-anchor="end">psaJ</text><text transform="translate(79.22 163.25) rotate(30.1)" y="2.1" text-anchor="end">rpl33</text><text transform="translate(76.01 168.93) rotate(28.7)" y="2.1" text-anchor="end">rps18</text><text transform="translate(121.75 200.72) rotate(27.1)" y="2.1" text-anchor="start">rpl20</text><text transform="translate(117.04 210.55) rotate(24.15)" y="2.1" text-anchor="start">rps12</text><text transform="translate(113.51 218.89) rotate(21.7)" y="2.1" text-anchor="start">clpP</text><text transform="translate(77.66 225.63) rotate(17.1)" y="2.1" text-anchor="end">psbB</text><text transform="translate(52.06 228.97) rotate(14.8)" y="2.1" text-anchor="end">psbT</text><text transform="translate(50.58 234.85) rotate(13.5)" y="2.1" text-anchor="end">psbH</text><text transform="translate(104.61 246.68) rotate(13.8)" y="2.1" text-anchor="start">psbN</text><text transform="translate(72.04 247.43) rotate(11.8)" y="2.1" text-anchor="end">petB</text><text transform="translate(69.27 263.33) rotate(8)" y="2.1" text-anchor="end">petD</text><text transform="translate(123.45 275.58) rotate(6.6)" y="2.1" text-anchor="start">rpoA</text><text transform="translate(122.87 281.3) rotate(4.85)" y="2.1" text-anchor="start">rps11</text><text transform="translate(122.48 287.03) rotate(3.1)" y="2.1" text-anchor="start">rpl36</text><text transform="translate(122.25 292.93) rotate(1.3)" y="2.1" text-anchor="start">infA</text><text transform="translate(122.21 298.68) rotate(-0.45)" y="2.1" text-anchor="start">rps8</text><text transform="translate(122.34 304.42) rotate(-2.2)" y="2.1" text-anchor="start">rpl14</text><text transform="translate(122.64 309.99) rotate(-3.9)" y="2.1" text-anchor="start">rpl16</text><text transform="translate(123.16 316.21) rotate(-5.8)" y="2.1" text-anchor="start">rps3</text><text transform="translate(123.72 321.1) rotate(-7.3)" y="2.1" text-anchor="start">rpl22</text><text transform="translate(124.52 326.63) rotate(-9)" y="2.1" text-anchor="start">rps19</text><text transform="translate(69.77 334.44) rotate(-8.8)" y="2.1" text-anchor="end">trnH-GUG</text><text transform="translate(102.83 339.79) rotate(-11.6)" y="2.1" text-anchor="start">rpl2</text><text transform="translate(126.45 336.95) rotate(-12.2)" y="2.1" text-anchor="start">rpl23</text><text transform="translate(127.67 342.23) rotate(-13.85)" y="2.1" text-anchor="start">trnI-CAU</text><text transform="translate(84.31 387.59) rotate(-21.8)" y="2.1" text-anchor="end">ycf2</text><text transform="translate(130.49 409.12) rotate(-31.9)" y="2.1" text-anchor="start">trnL-CAA</text><text transform="translate(137.44 419.59) rotate(-35.3)" y="2.1" text-anchor="start">ndhB</text><text transform="translate(146.75 431.78) rotate(-39.45)" y="2.1" text-anchor="start">rps7</text><text transform="translate(150.94 436.71) rotate(-41.2)" y="2.1" text-anchor="start">rps12</text><text transform="translate(143.37 474.34) rotate(-46.7)" y="2.1" text-anchor="end">trnV-GAC</text><text transform="translate(149.34 479.78) rotate(-48.6)" y="2.1" text-anchor="end">rrn16</text><text transform="translate(162.46 490.56) rotate(-52.6)" y="2.1" text-anchor="end">trnI-GAU</text><text transform="translate(170.87 496.7) rotate(-55.05)" y="2.1" text-anchor="end">trnA-UGC</text><text transform="translate(187.13 507.14) rotate(-59.6)" y="2.1" text-anchor="end">rrn23</text><text transform="translate(187.79 534.55) rotate(-62.7)" y="2.1" text-anchor="end">rrn4.5</text><text transform="translate(193.21 537.27) rotate(-64)" y="2.1" text-anchor="end">rrn5</text><text transform="translate(198.69 539.86) rotate(-65.3)" y="2.1" text-anchor="end">trnR-ACG</text><text transform="translate(223.82 490.54) rotate(-65.9)" y="2.1" text-anchor="start">trnN-GUU</text><text transform="translate(243.8 498.29) rotate(-71.7)" y="2.1" text-anchor="start">ndhF</text><text transform="translate(251.42 533.37) rotate(-76)" y="2.1" text-anchor="end">rpl32</text><text transform="translate(260.94 535.54) rotate(-78.3)" y="2.1" text-anchor="end">trnL-UAG</text><text transform="translate(268.03 536.9) rotate(-80)" y="2.1" text-anchor="end">ccsA</text><text transform="translate(286.78 507.69) rotate(-83.62)" y="2.1" text-anchor="start">ndhD</text><text transform="translate(294.24 508.39) rotate(-85.65)" y="2.1" text-anchor="start">psaC</text><text transform="translate(299.14 484.97) rotate(-86.6)" y="2.1" text-anchor="start">ndhE</text><text transform="translate(307.02 485.27) rotate(-89)" y="2.1" text-anchor="start">ndhG</text><text transform="translate(313.26 508.98) rotate(-270.8)" y="2.1" text-anchor="end">ndhI</text><text transform="translate(324.34 508.53) rotate(-273.8)" y="2.1" text-anchor="end">ndhA</text><text transform="translate(337.95 507.19) rotate(-277.5)" y="2.1" text-anchor="end">ndhH</text><text transform="translate(344.44 506.23) rotate(-279.27)" y="2.1" text-anchor="end">rps15</text><text transform="translate(370.63 500.23) rotate(-286.55)" y="2.1" text-anchor="end">ycf1</text><text transform="translate(409.69 519.38) rotate(-294.1)" y="2.1" text-anchor="start">trnN-GUU</text><text transform="translate(388.6 468.23) rotate(-294.6)" y="2.1" text-anchor="end">trnR-ACG</text><text transform="translate(393.35 465.97) rotate(-296.2)" y="2.1" text-anchor="end">rrn5</text><text transform="translate(398.03 463.59) rotate(-297.8)" y="2.1" text-anchor="end">rrn4.5</text><text transform="translate(417.48 479.88) rotate(-300.4)" y="2.1" text-anchor="end">rrn23</text><text transform="translate(432.69 470.06) rotate(-305.3)" y="2.1" text-anchor="end">trnA-UGC</text><text transform="translate(439.53 465.01) rotate(-307.6)" y="2.1" text-anchor="end">trnI-GAU</text><text transform="translate(449.11 457.17) rotate(-310.95)" y="2.1" text-anchor="end">rrn16</text><text transform="translate(455.56 451.34) rotate(-313.3)" y="2.1" text-anchor="end">trnV-GAC</text><text transform="translate(493.44 457.53) rotate(-318.8)" y="2.1" text-anchor="start">rps12</text><text transform="translate(498.25 451.86) rotate(-320.55)" y="2.1" text-anchor="start">rps7</text><text transform="translate(508.95 437.85) rotate(-324.7)" y="2.1" text-anchor="start">ndhB</text><text transform="translate(516.94 425.82) rotate(-328.1)" y="2.1" text-anchor="start">trnL-CAA</text><text transform="translate(506.95 375.86) rotate(-338.2)" y="2.1" text-anchor="end">ycf2</text><text transform="translate(569.54 361.5) rotate(-346.07)" y="2.1" text-anchor="start">trnI-CAU</text><text transform="translate(570.69 356.69) rotate(-347.13)" y="2.1" text-anchor="start">rpl23</text><text transform="translate(549.31 343.23) rotate(-349.1)" y="2.1" text-anchor="start">rpl2</text><text transform="translate(551.26 331.6) rotate(-351.88)" y="2.1" text-anchor="start">rps19</text></g>
<g font-family="'Liberation Serif', 'Times New Roman', serif" fill="#000" stroke="#000" stroke-width="0.3">
<text x="220.6" y="286.7" font-size="20.3" textLength="181.3" lengthAdjust="spacing">six <tspan font-style="italic">Polygonatum</tspan> species</text>
<text x="236.7" y="324.4" font-size="15.2" textLength="135.6" lengthAdjust="spacing">155, 361 bp -155, 962 bp</text>
</g>
<g font-family="'Liberation Serif', 'Times New Roman', serif" font-size="7.7" fill="#111">
<rect x="8.9" y="502.35" width="6.5" height="6.5" fill="#1a6b30" stroke="#0a2a13" stroke-width="1"/>
<text x="18.8" y="508.1" stroke="#111" stroke-width="0.12">photosystem I</text>
<rect x="8.9" y="512.01" width="6.5" height="6.5" fill="#3d9b3a" stroke="#183e17" stroke-width="1"/>
<text x="18.8" y="517.76" stroke="#111" stroke-width="0.12">photosystem II</text>
<rect x="8.9" y="521.67" width="6.5" height="6.5" fill="#7ca41e" stroke="#31410c" stroke-width="1"/>
<text x="18.8" y="527.42" stroke="#111" stroke-width="0.12">cytochrome b/f complex</text>
<rect x="8.9" y="531.33" width="6.5" height="6.5" fill="#9dc22b" stroke="#3e4d11" stroke-width="1"/>
<text x="18.8" y="537.08" stroke="#111" stroke-width="0.12">ATP synthase</text>
<rect x="8.9" y="540.99" width="6.5" height="6.5" fill="#fbe821" stroke="#645c0d" stroke-width="1"/>
<text x="18.8" y="546.74" stroke="#111" stroke-width="0.12">NADH dehydrogenase</text>
<rect x="8.9" y="550.65" width="6.5" height="6.5" fill="#2fa53c" stroke="#124218" stroke-width="1"/>
<text x="18.8" y="556.4" stroke="#111" stroke-width="0.12">RubisCO large subunit</text>
<rect x="8.9" y="560.31" width="6.5" height="6.5" fill="#c61c2a" stroke="#4f0b10" stroke-width="1"/>
<text x="18.8" y="566.06" stroke="#111" stroke-width="0.12">RNA polymerase</text>
<rect x="8.9" y="569.97" width="6.5" height="6.5" fill="#dfa974" stroke="#59432e" stroke-width="1"/>
<text x="18.8" y="575.72" stroke="#111" stroke-width="0.12">ribosomal proteins (SSU)</text>
<rect x="8.9" y="579.63" width="6.5" height="6.5" fill="#a9783f" stroke="#433019" stroke-width="1"/>
<text x="18.8" y="585.38" stroke="#111" stroke-width="0.12">ribosomal proteins (LSU)</text>
<rect x="8.9" y="589.29" width="6.5" height="6.5" fill="#f0651c" stroke="#60280b" stroke-width="1"/>
<text x="18.8" y="595.04" stroke="#111" stroke-width="0.12">clpP, matK</text>
<rect x="8.9" y="598.95" width="6.5" height="6.5" fill="#b22da6" stroke="#471242" stroke-width="1"/>
<text x="18.8" y="604.7" stroke="#111" stroke-width="0.12">other genes</text>
<rect x="8.9" y="608.61" width="6.5" height="6.5" fill="#fff9cf" stroke="#666352" stroke-width="1"/>
<text x="18.8" y="614.36" stroke="#111" stroke-width="0.12">hypothetical chloroplast reading frames (ycf)</text>
<rect x="8.9" y="618.27" width="6.5" height="6.5" fill="#1c3596" stroke="#0b153c" stroke-width="1"/>
<text x="18.8" y="624.02" stroke="#111" stroke-width="0.12">transfer RNAs</text>
<rect x="8.9" y="627.93" width="6.5" height="6.5" fill="#e2141f" stroke="#5a080c" stroke-width="1"/>
<text x="18.8" y="633.68" stroke="#111" stroke-width="0.12">ribosomal RNAs</text>
</g>
</svg>
</body></html>
